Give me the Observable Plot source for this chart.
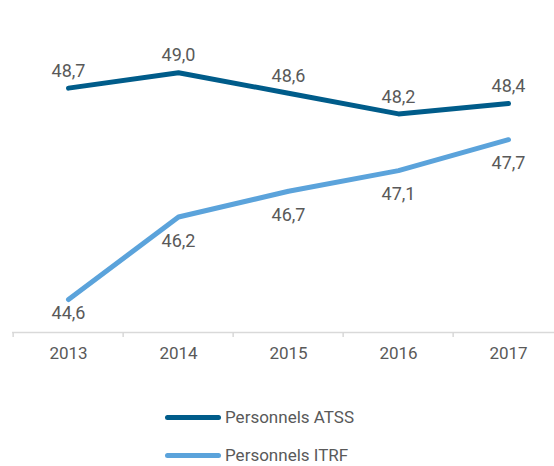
<!DOCTYPE html>
<html>
<head>
<meta charset="utf-8">
<script src="https://cdn.jsdelivr.net/npm/d3@7"></script>
<script src="https://cdn.jsdelivr.net/npm/@observablehq/plot@0.6"></script>
<style>
  html, body { margin: 0; padding: 0; background: #fff; overflow: hidden; }
  body { width: 554px; height: 466px; position: relative; font-family: Roboto, "Noto Sans", sans-serif; }
  #legend { position: absolute; left: 165px; top: 404px; }
  .row { display: flex; align-items: center; height: 26px; margin-bottom: 12px; }
  .sw { width: 56px; height: 5px; border-radius: 3px; margin-right: 4px; }
  .lab { font-size: 17px; line-height: 20px; color: #595959; }
</style>
</head>
<body>
<div id="chart"></div>
<div id="legend"></div>
<script>
const years = ["2013", "2014", "2015", "2016", "2017"];
const seriesNames = ["Personnels ATSS", "Personnels ITRF"];
const atss = [48.7, 49.0, 48.6, 48.2, 48.4];
const itrf = [44.6, 46.2, 46.7, 47.1, 47.7];
const colors = ["#005C8A", "#5BA3DB"];

const rows = [];
years.forEach((y, i) => {
  rows.push({year: y, series: seriesNames[0], value: atss[i]});
  rows.push({year: y, series: seriesNames[1], value: itrf[i]});
});
const fmt = v => v.toFixed(1).replace(".", ",");
const yMin = 43.96, yMax = 50.40;
const xRange = [11.5, 565];
const step = (xRange[1] - xRange[0]) / years.length;

const chart = Plot.plot({
  width: 554,
  height: 380,
  marginTop: 0,
  marginBottom: 48,
  marginLeft: 12,
  marginRight: 0,
  style: {fontFamily: "Roboto, sans-serif", background: "#fff", overflow: "visible"},
  x: {type: "point", domain: years, range: xRange, padding: 0.5},
  y: {domain: [yMin, yMax], axis: null},
  color: {domain: seriesNames, range: colors},
  marks: [
    Plot.ruleY([yMin], {stroke: "#d9d9d9", strokeWidth: 1.5}),
    Plot.ruleX(years, {x: d => d, y1: yMin, y2: yMin, dx: -step / 2, insetBottom: -5, stroke: "#d9d9d9", strokeWidth: 1.5}),
    Plot.axisX({tickSize: 0, tickPadding: 14, fontSize: 17, fill: "#595959", label: null}),
    Plot.line(rows, {x: "year", y: "value", z: "series", stroke: "series", strokeWidth: 5, strokeLinecap: "round", strokeLinejoin: "round"}),
    Plot.text(rows.filter(d => d.series === seriesNames[0]), {x: "year", y: "value", text: d => fmt(d.value), dy: -17, fontSize: 18, fill: "#595959"}),
    Plot.text(rows.filter(d => d.series === seriesNames[1] && d.value > 45), {x: "year", y: "value", text: d => fmt(d.value), dy: 24, fontSize: 18, fill: "#595959"}),
    Plot.text(rows.filter(d => d.series === seriesNames[1] && d.value <= 45), {x: "year", y: "value", text: d => fmt(d.value), dy: 14, fontSize: 18, fill: "#595959"})
  ]
});
document.getElementById("chart").append(chart);

const legend = document.getElementById("legend");
seriesNames.forEach((name, i) => {
  const row = document.createElement("div");
  row.className = "row";
  const sw = document.createElement("span");
  sw.className = "sw";
  sw.style.background = colors[i];
  const lab = document.createElement("span");
  lab.className = "lab";
  lab.textContent = name;
  row.append(sw, lab);
  legend.append(row);
});
</script>
</body>
</html>
